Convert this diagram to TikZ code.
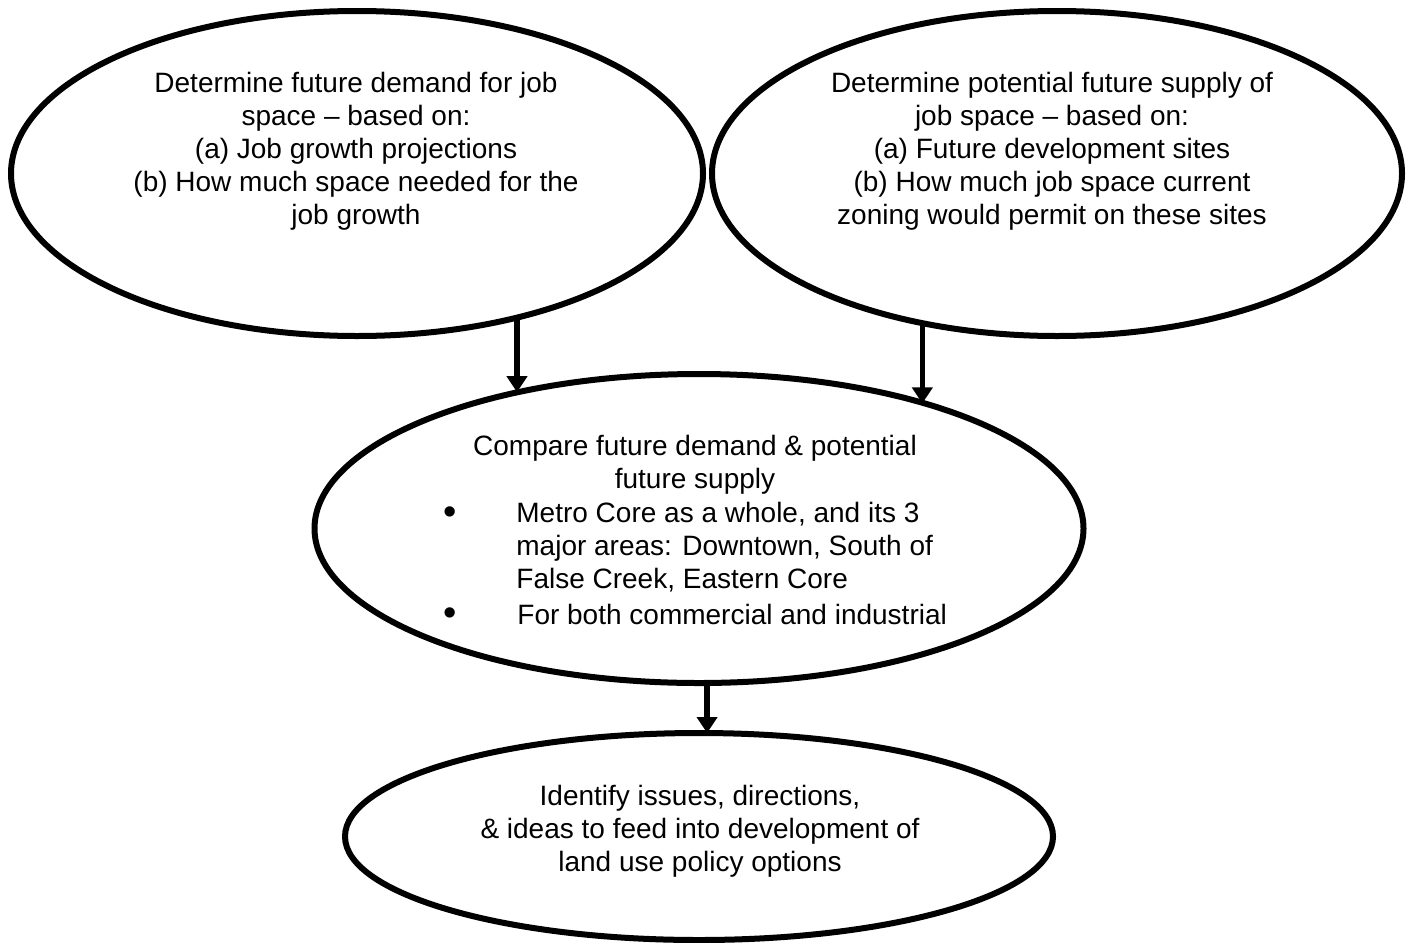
\documentclass[tikz,border=0pt]{standalone}
\usepackage{fontspec}
\setmainfont{Liberation Sans}
\usetikzlibrary{arrows.meta,shapes.geometric}
\begin{document}
\begin{tikzpicture}[x=0.5pt,y=-0.5pt,
  oval/.style={draw,ellipse,line width=3pt,inner sep=0pt,outer sep=0pt},
  txt/.style={font=\fontsize{14}{16.5}\selectfont,inner sep=0pt,align=center},
  dot/.style={font=\fontsize{19}{19}\selectfont,inner sep=0pt},
  flow/.style={line width=2.7pt,-{Triangle[width=10pt,length=8pt]}}]
\useasboundingbox (0,0) rectangle (1406,942);
% ellipses
\node[oval,minimum width=346pt,minimum height=162.5pt] (e1) at (357,173.5) {};
\node[oval,minimum width=345pt,minimum height=162.5pt] (e2) at (1057,173.5) {};
\node[oval,minimum width=384.5pt,minimum height=154.5pt] (m) at (699,528.5) {};
\node[oval,minimum width=354pt,minimum height=103.5pt] (b) at (699,836.5) {};
% texts
\node[txt] (t1) at (356,151.2) {Determine future demand for job\\space – based on:\\(a) Job growth projections\\(b) How much space needed for the\\job growth};
\node[txt] (t2) at (1052,151.2) {Determine potential future supply of\\job space – based on:\\(a) Future development sites\\(b) How much job space current\\zoning would permit on these sites};
\node[txt] (t3) at (695,465.2) {Compare future demand \& potential\\future supply};
\node[txt,align=left,anchor=west] (t4) at (516,547.5) {Metro Core as a whole, and its 3\\major areas: Downtown, South of\\False Creek, Eastern Core};
\node[txt,anchor=base west] (t5) at (517,624) {For both commercial and industrial};
\node[dot] (b1) at (450,516) {•};
\node[dot] (b2) at (450,617) {•};
\node[txt] (t6) at (700,831.7) {Identify issues, directions,\\\& ideas to feed into development of\\land use policy options};
% connectors
\draw[flow] (e1.-42.2) -- (e1.-42.2 |- m.143.4);
\draw[flow] (e2.-132.1) -- (e2.-132.1 |- m.29.5);
\draw[flow] (m.-87) -- (m.-87 |- b.85.6);
\end{tikzpicture}
\end{document}
